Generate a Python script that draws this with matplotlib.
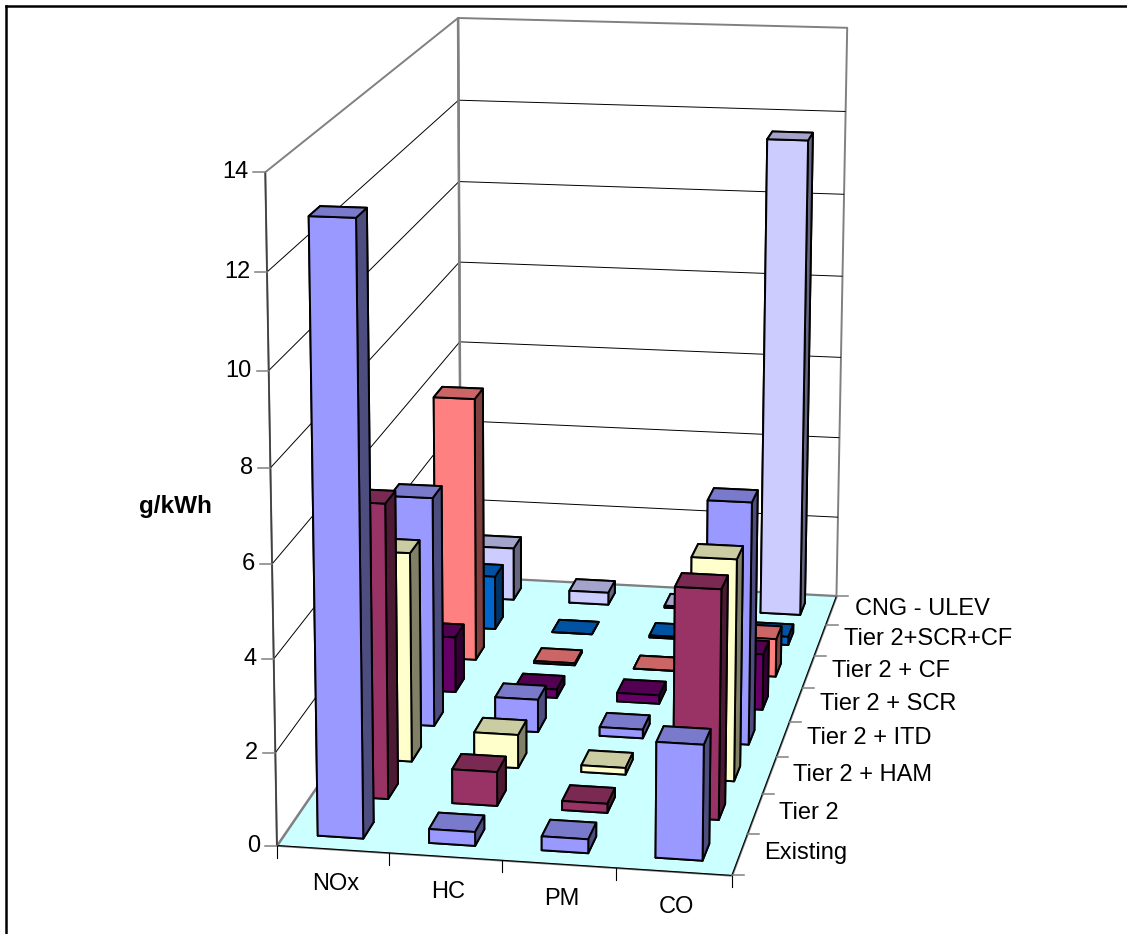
import numpy as np
import matplotlib
matplotlib.use("Agg")
import matplotlib.pyplot as plt
from matplotlib.lines import Line2D
from mpl_toolkits.mplot3d.art3d import Poly3DCollection, Line3DCollection

plt.rcParams["font.family"] = ["Liberation Sans", "DejaVu Sans"]

pollutants = ["NOx", "HC", "PM", "CO"]
engines = ["Existing", "Tier 2", "Tier 2 + HAM", "Tier 2 + ITD", "Tier 2 + SCR",
           "Tier 2 + CF", "Tier 2+SCR+CF", "CNG - ULEV"]
bar_colors = ["#9999FF", "#993366", "#FFFFCC", "#9999FF", "#660066", "#FF8080", "#0066CC", "#CCCCFF"]

nox = [13.0, 6.47, 4.7, 5.25, 1.3, 6.27, 1.3, 1.3]
hc = [0.3, 0.75, 0.75, 0.75, 0.2, 0.05, 0.0, 0.3]
pm = [0.3, 0.2, 0.15, 0.2, 0.2, 0.0, 0.05, 0.05]
co = [2.47, 5.0, 4.93, 5.5, 1.3, 0.9, 0.2, 11.6]
z_ticks = [0, 2, 4, 6, 8, 10, 12, 14]

W, H = 1127, 934
BAR = 0.41

# reference points used to fit the camera: (x, y, z) -> pixel
# x = category position, y = series position, z = value
calib = [
    ((0, 0, 0), (278.3, 845.7)), ((4, 0, 0), (730.7, 875.0)),
    ((4, 8, 0), (836.0, 595.7)), ((0, 8, 0), (459.0, 575.5)),
    ((0, 0, 14), (264.3, 171.7)), ((0, 8, 14), (459.0, 18.3)),
    ((4, 8, 14), (846.7, 27.7)),
    ((0, 8, 12), (459.0, 100.0)), ((0, 8, 10), (459.0, 182.0)),
    ((1, 0, 0), (388.3, 853.3)), ((2, 0, 0), (502.3, 860.0)), ((3, 0, 0), (616.7, 868.3)),
    ((4, 1, 0), (746.7, 833.7)), ((4, 2, 0), (761.7, 793.7)), ((4, 3, 0), (776.7, 757.7)),
    ((4, 4, 0), (789.3, 721.7)), ((4, 5, 0), (802.7, 687.7)), ((4, 6, 0), (815.0, 656.0)),
    ((4, 7, 0), (826.0, 625.7)),
    ((0, 0, 2), (276.0, 753.0)), ((0, 0, 8), (270.0, 468.0)),
]


def fit_camera(points):
    rows = []
    for (x, y, z), (u, v) in points:
        rows.append([x, y, z, 1, 0, 0, 0, 0, -u * x, -u * y, -u * z, -u])
        rows.append([0, 0, 0, 0, x, y, z, 1, -v * x, -v * y, -v * z, -v])
    cam = np.linalg.svd(np.array(rows, dtype=float))[2][-1].reshape(3, 4)
    if cam[2] @ np.array([0, 0, 0, 1.0]) < 0:
        cam = -cam
    return cam


cam = fit_camera(calib)


def to_px(x, y, z):
    p = cam @ np.array([x, y, z, 1.0])
    return p[0] / p[2], p[1] / p[2]


fig = plt.figure(figsize=(W / 100, H / 100), dpi=100, facecolor="white")
ax = fig.add_axes([0, 0, 1, 1], projection="3d", computed_zorder=False)
ax.set_axis_off()
# 4x4 matrix: screen x, screen y, depth (-1/w, grows away from the viewer), w
M = np.vstack([cam[0], cam[1], [0, 0, 0, -1.0], cam[2]])
ax.get_proj = lambda: M
ax.apply_aspect = lambda position=None: None
ax.viewLim.intervalx = (0, W)
ax.viewLim.intervaly = (H, 0)

order = 1
GREY = "#808080"


def lines3d(segments, color, lw):
    # Line3D masks anything outside [-1, 1], the collection does not
    global order
    ax.add_collection3d(Line3DCollection(segments, colors=color, linewidths=lw, zorder=order))
    order += 1


# walls and floor
walls = [[(0, 0, 0), (0, 8, 0), (0, 8, 14), (0, 0, 14)],
         [(0, 8, 0), (4, 8, 0), (4, 8, 14), (0, 8, 14)]]
ax.add_collection3d(Poly3DCollection(walls, facecolor="white", edgecolor=GREY, linewidth=1.4, zorder=order))
order += 1

# gridlines
grid = []
for t in z_ticks[1:-1]:
    grid.append([(0, 0, t), (0, 8, t)])
    grid.append([(0, 8, t), (4, 8, t)])
lines3d(grid, "black", 0.7)
lines3d([[(0, 8, 0), (0, 8, 14)]], GREY, 1.8)

floor = [[(0, 0, 0), (4, 0, 0), (4, 8, 0), (0, 8, 0)]]
ax.add_collection3d(Poly3DCollection(floor, facecolor="#CCFFFF", edgecolor=GREY, linewidth=1.2, zorder=order))
order += 1

lines3d([[(0, 0, 0), (4, 0, 0)], [(4, 0, 0), (4, 8, 0)]], "black", 0.8)
lines3d([[(0, 0, 0), (0, 0, 14)]], "#404040", 1.2)

# bars, painted from the back row to the front
values = [nox, hc, pm, co]
for row in range(len(engines) - 1, -1, -1):
    base = np.array(matplotlib.colors.to_rgb(bar_colors[row]))
    top = base * 0.8
    side = base * 0.5
    # bar3d face order: bottom, top, front, back, left, right
    faces = [top, top, base, side, side, side]
    for col in range(len(pollutants)):
        h = values[col][row]
        px = col + 0.5 - BAR / 2
        py = row + 0.5 - BAR / 2
        poly = ax.bar3d([px], [py], [0], BAR, BAR, h, color=faces, shade=False,
                        edgecolor="black", linewidth=1.4)
        poly.set_zorder(order)
        order += 1


def tick(x0, y0, x1, y1, color="black", lw=0.8):
    fig.add_artist(Line2D([x0 / W, x1 / W], [1 - y0 / H, 1 - y1 / H], color=color, lw=lw))


# value axis
for t in z_ticks:
    u, v = to_px(0, 0, t)
    tick(u - 12, v, u, v, color=GREY, lw=1.1)
    ax.text2D(u - 17, v, str(t), transform=ax.transData, ha="right", va="center", fontsize=17)

# category axis
for i in range(len(pollutants) + 1):
    u, v = to_px(i, 0, 0)
    tick(u, v, u, v + 12)
for i, name in enumerate(pollutants):
    u, v = to_px(i + 0.5, 0, 0)
    ax.text2D(u + 3, v + 35, name, transform=ax.transData, ha="center", va="center", fontsize=17)

# series axis
for i in range(len(engines) + 1):
    u, v = to_px(4, i, 0)
    tick(u, v, u + 12, v, color=GREY, lw=1.1)
for i, name in enumerate(engines):
    u, v = to_px(4, i + 0.5, 0)
    ax.text2D(u + 24, v - 1, name, transform=ax.transData, ha="left", va="center", fontsize=17)

ax.text2D(175, 507, "g/kWh", transform=ax.transData, ha="center", va="center", fontsize=17.5, fontweight="bold")

# chart border, only left and top fall inside the picture
fig.add_artist(Line2D([6 / W, 6 / W], [0, 1 - 6 / H], color="black", lw=1.8))
fig.add_artist(Line2D([6 / W, 1], [1 - 6 / H, 1 - 6 / H], color="black", lw=1.8))

fig.savefig("out.png", dpi=100, facecolor="white")
